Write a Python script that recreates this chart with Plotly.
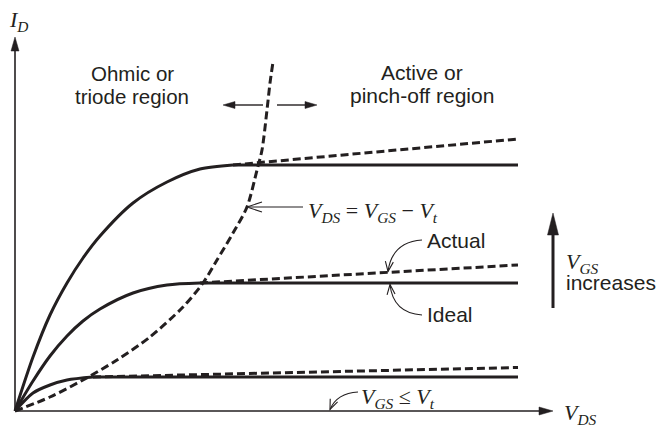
import math
import plotly.graph_objects as go

# ---- data (V_DS in arbitrary units, I_D in arbitrary units) ----
vds_top = [0, 0.36, 0.70, 1.04, 1.36, 1.70, 2.36, 3.04, 3.70, 4.36]
id_top = [0, 1.08, 1.92, 2.56, 3.06, 3.50, 4.16, 4.58, 4.84, 4.92]
vds_mid = [0, 0.36, 0.70, 1.04, 1.36, 1.70, 2.36, 3.04, 3.70]
id_mid = [0, 0.60, 1.10, 1.50, 1.80, 2.04, 2.36, 2.52, 2.56]
vds_low = [0, 0.36, 0.70, 1.04, 1.56]
id_low = [0, 0.36, 0.52, 0.62, 0.68]
vds_end = 10.06
id_actual_end = [5.44, 2.92, 0.87]   # top, mid, low
vds_boundary = [0, 0.70, 1.36, 2.04, 2.70, 3.36, 3.76, 4.04, 4.36, 4.64, 4.84, 4.94, 5.04, 5.10, 5.16]
id_boundary = [0, 0.28, 0.62, 1.02, 1.48, 2.08, 2.56, 3.02, 3.56, 4.08, 4.82, 5.22, 6.02, 6.56, 6.98]
x_axis_end = 10.76
y_axis_end = 7.48

INK = "#231f20"
PX = 50.0  # pixels per data unit (both axes)
SANS = "Liberation Sans, Arial, sans-serif"
SERIF = "Liberation Serif, Times New Roman, serif"

fig = go.Figure()

def line(x, y, dash="solid", shape="linear", w=3):
    fig.add_trace(go.Scatter(x=x, y=y, mode="lines", hoverinfo="skip",
                             line=dict(color=INK, width=w, dash=dash, shape=shape,
                                       smoothing=0.8), showlegend=False))

DASH = "8px,4px"
curves = [(vds_top, id_top), (vds_mid, id_mid), (vds_low, id_low)]
for (vx, vy), yend in zip(curves, id_actual_end):
    line(vx, vy, shape="spline")
    line([vx[-1], vds_end], [vy[-1], vy[-1]])
    line([vx[-1], vds_end], [vy[-1], yend], dash=DASH)
line(vds_boundary, id_boundary, dash=DASH, shape="spline")

shapes = []

def arrow(x0, y0, x1, y1, w, hl, hw):
    """straight arrow with filled triangular head; hl, hw in pixels"""
    dx, dy = x1 - x0, y1 - y0
    L = math.hypot(dx, dy)
    ux, uy = dx / L, dy / L
    bx, by = x1 - ux * hl / PX, y1 - uy * hl / PX
    px_, py_ = -uy * hw / 2 / PX, ux * hw / 2 / PX
    shapes.append(dict(type="line", x0=x0, y0=y0, x1=bx + ux * 1 / PX, y1=by + uy * 1 / PX,
                       xref="x", yref="y", line=dict(color=INK, width=w)))
    shapes.append(dict(type="path", xref="x", yref="y",
                       path=f"M{x1},{y1} L{bx+px_},{by+py_} L{bx-px_},{by-py_} Z",
                       fillcolor=INK, line=dict(color=INK, width=0.5)))

def chevron(tip, frm, hl, hw, w=1.1):
    """open arrow head at tip, pointing away from frm; hl, hw in pixels"""
    dx, dy = tip[0] - frm[0], tip[1] - frm[1]
    L = math.hypot(dx, dy)
    ux, uy = dx / L, dy / L
    bx, by = tip[0] - ux * hl / PX, tip[1] - uy * hl / PX
    px_, py_ = -uy * hw / 2 / PX, ux * hw / 2 / PX
    shapes.append(dict(type="path", xref="x", yref="y",
                       path=f"M{bx+px_},{by+py_} L{tip[0]},{tip[1]} L{bx-px_},{by-py_}",
                       line=dict(color=INK, width=w)))

# axes
arrow(0, 0, 0, y_axis_end, 1.6, 14, 8)
arrow(0, 0, x_axis_end, 0, 1.6, 14, 8)
# region arrows
arrow(4.96, 6.12, 4.16, 6.12, 1.4, 12, 7)
arrow(5.24, 6.12, 6.04, 6.12, 1.4, 12, 7)
# V_GS increases arrow
arrow(10.76, 2.06, 10.76, 3.96, 3, 22, 11)

def curved(p0, c, tip):
    shapes.append(dict(type="path", xref="x", yref="y",
                       path=f"M{p0[0]},{p0[1]} Q{c[0]},{c[1]} {tip[0]},{tip[1]}",
                       line=dict(color=INK, width=1.1)))
    chevron(tip, c, 10, 8)

curved((8.14, 3.42), (7.54, 3.38), (7.46, 2.79))     # Actual
curved((8.14, 1.92), (7.56, 1.96), (7.50, 2.53))     # Ideal
curved((6.86, 0.38), (6.44, 0.36), (6.30, 0.03))     # V_GS <= V_t

# straight pointer to boundary curve
shapes.append(dict(type="line", xref="x", yref="y", x0=5.76, y0=4.08, x1=4.64, y1=4.08,
                   line=dict(color=INK, width=1.1)))
chevron((4.64, 4.08), (5.76, 4.08), 15, 10)

annotations = []

def text(x, y, s, font, size, xanchor="center"):
    annotations.append(dict(x=x, y=y, xref="x", yref="y", text=s, showarrow=False,
                            xanchor=xanchor, yanchor="middle",
                            font=dict(family=font, size=size, color=INK)))

text(2.34, 6.76, "Ohmic or", SANS, 20.5)
text(2.34, 6.30, "triode region", SANS, 20.5)
text(8.14, 6.78, "Active or", SANS, 21)
text(8.14, 6.32, "pinch-off region", SANS, 21)
text(8.81, 3.41, "Actual", SANS, 21)
text(8.69, 1.93, "Ideal", SANS, 21)
text(10.98, 2.58, "increases", SANS, 21, "left")
text(10.98, 2.97, "<i>V<sub>GS</sub></i>", SERIF, 22, "left")
text(5.82, 3.98, "<i>V<sub>DS</sub></i> = <i>V<sub>GS</sub></i> − <i>V<sub>t</sub></i>", SERIF, 22, "left")
text(6.88, 0.26, "<i>V<sub>GS</sub></i> ≤ <i>V<sub>t</sub></i>", SERIF, 22, "left")
text(10.94, -0.05, "<i>V<sub>DS</sub></i>", SERIF, 22, "left")
text(-0.16, 7.80, "<i>I<sub>D</sub></i>", SERIF, 22, "left")

fig.update_layout(
    width=657, height=426,
    margin=dict(l=0, r=0, t=0, b=0),
    paper_bgcolor="white", plot_bgcolor="white",
    xaxis=dict(range=[-0.3, 12.84], visible=False, fixedrange=True),
    yaxis=dict(range=[-0.3, 8.22], visible=False, fixedrange=True),
    shapes=shapes, annotations=annotations, showlegend=False,
)
# remove the browser's default 8 px page margin so the figure fills the window
fig.write_html("out.html", config={"displayModeBar": False},
               post_script="document.body.style.margin='0';")
